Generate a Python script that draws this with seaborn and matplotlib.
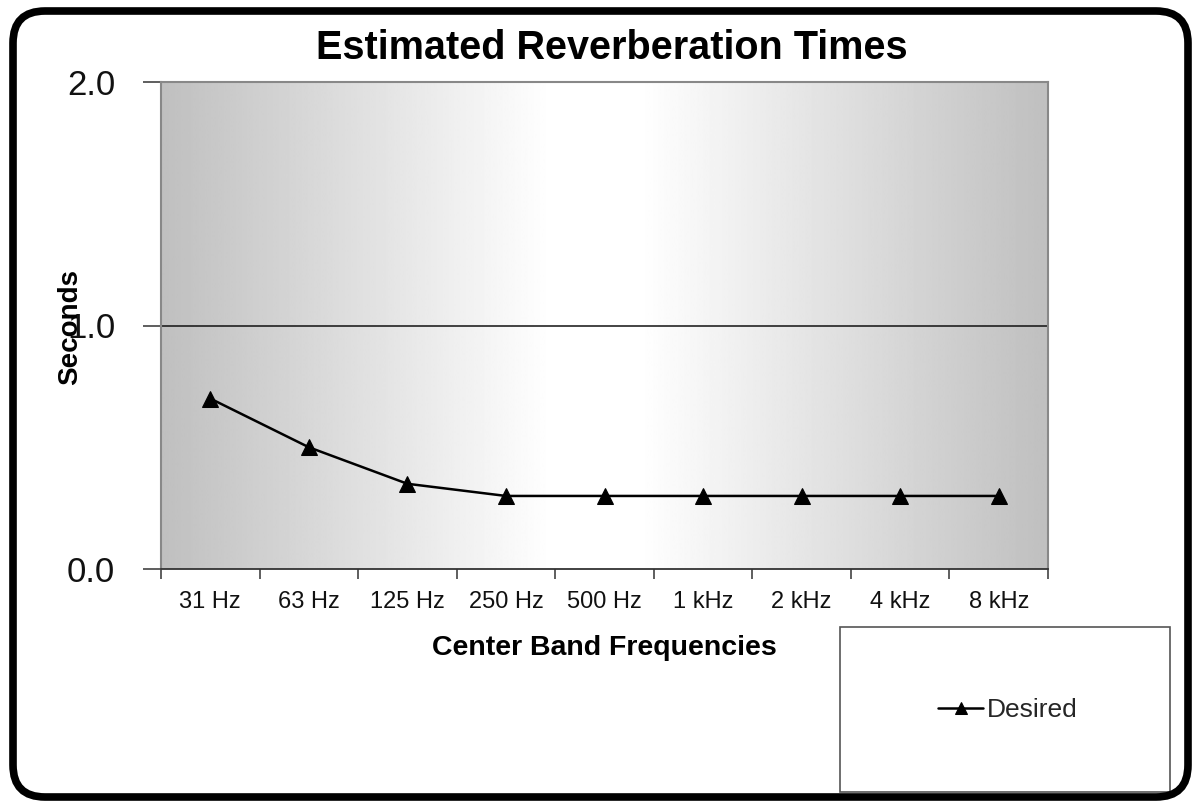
import numpy as np
import pandas as pd
import matplotlib
matplotlib.use("Agg")
import matplotlib.pyplot as plt
from matplotlib.patches import FancyBboxPatch, Rectangle
from matplotlib.transforms import IdentityTransform
import seaborn as sns

frequencies = ["31 Hz", "63 Hz", "125 Hz", "250 Hz", "500 Hz", "1 kHz", "2 kHz", "4 kHz", "8 kHz"]
desired = [0.70, 0.50, 0.35, 0.30, 0.30, 0.30, 0.30, 0.30, 0.30]
y_ticks = [0.0, 1.0, 2.0]
y_tick_labels = ["0.0", "1.0", "2.0"]

sns.set_theme(style="white")
plt.rcParams["font.family"] = ["Liberation Sans", "DejaVu Sans"]

W, H = 1200, 808
fig = plt.figure(figsize=(12, 8.08), dpi=100)
fig.patch.set_facecolor("white")

ax = fig.add_axes([161 / W, 1 - 569 / H, (1048 - 161) / W, (569 - 82) / H])

# background gradient (Excel style: grey at edges, white toward centre)
t = np.linspace(0, 1, 600)
peak_lo, peak_hi = 0.44, 0.54
g = np.where(t < peak_lo, t / peak_lo, np.where(t > peak_hi, (1 - t) / (1 - peak_hi), 1.0))
vals = 0.75 + 0.25 * g
ax.imshow(vals[np.newaxis, :], extent=(-0.5, len(frequencies) - 0.5, 0, 2),
          aspect="auto", cmap="gray", vmin=0, vmax=1, zorder=0, interpolation="bilinear")

df = pd.DataFrame({"Frequency": frequencies, "Seconds": desired})
sns.lineplot(data=df, x="Frequency", y="Seconds", ax=ax, color="black", linewidth=1.8,
             marker="^", markersize=11, markeredgecolor="black", label="Desired",
             zorder=3, sort=False)

ax.axhline(1.0, color="#111111", linewidth=1.1, zorder=2)

ax.set_xlim(-0.5, len(frequencies) - 0.5)
ax.set_ylim(0, 2)
ax.set_xticks(range(len(frequencies)))
ax.set_xticklabels(frequencies, fontsize=17, color="#111111")
ax.set_xticks(np.arange(-0.5, len(frequencies), 1.0), minor=True)
ax.tick_params(axis="x", which="major", length=0, pad=16)
ax.tick_params(axis="x", which="minor", length=7, width=1.1, color="#333333", direction="out", bottom=True)
ax.set_yticks(y_ticks)
ax.set_yticklabels(y_tick_labels, fontsize=25, color="#111111")
ax.tick_params(axis="y", which="major", length=13, width=1.1, color="#333333", direction="out", left=True, pad=20)
ax.set_xlabel("")
ax.set_ylabel("")
for side in ["left", "top", "right"]:
    ax.spines[side].set_color("#888888")
    ax.spines[side].set_linewidth(1.5)
ax.spines["bottom"].set_color("#333333")
ax.spines["bottom"].set_linewidth(1.3)

handles, labels = ax.get_legend_handles_labels()
ax.get_legend().remove()

fig.text(612 / W, 1 - 48 / H, "Estimated Reverberation Times", ha="center", va="center",
         fontsize=28.5, fontweight="bold", color="black")
fig.text(604 / W, 1 - 648 / H, "Center Band Frequencies", ha="center", va="center",
         fontsize=20.5, fontweight="bold", color="black")
fig.text(70 / W, 1 - 327 / H, "Seconds", ha="center", va="center", rotation=90,
         fontsize=20, fontweight="bold", color="black")

# legend box
fig.patches.append(Rectangle((840 / W, 1 - 792 / H), 330 / W, 165 / H, transform=fig.transFigure,
                             facecolor="white", edgecolor="#555555", linewidth=1.2, zorder=1))
fig.legend(handles, labels, loc="center", bbox_to_anchor=(1008 / W, 1 - 710 / H), frameon=False,
           fontsize=19, handlelength=1.7, handletextpad=0.15, markerscale=0.75)

# outer rounded frame
frame = FancyBboxPatch((13, 11), 1175, 786, boxstyle="round,pad=0,rounding_size=32",
                       transform=IdentityTransform(), facecolor="none", edgecolor="black",
                       linewidth=5.5, zorder=10)
fig.patches.append(frame)

fig.savefig("out.png", dpi=100, facecolor="white")
